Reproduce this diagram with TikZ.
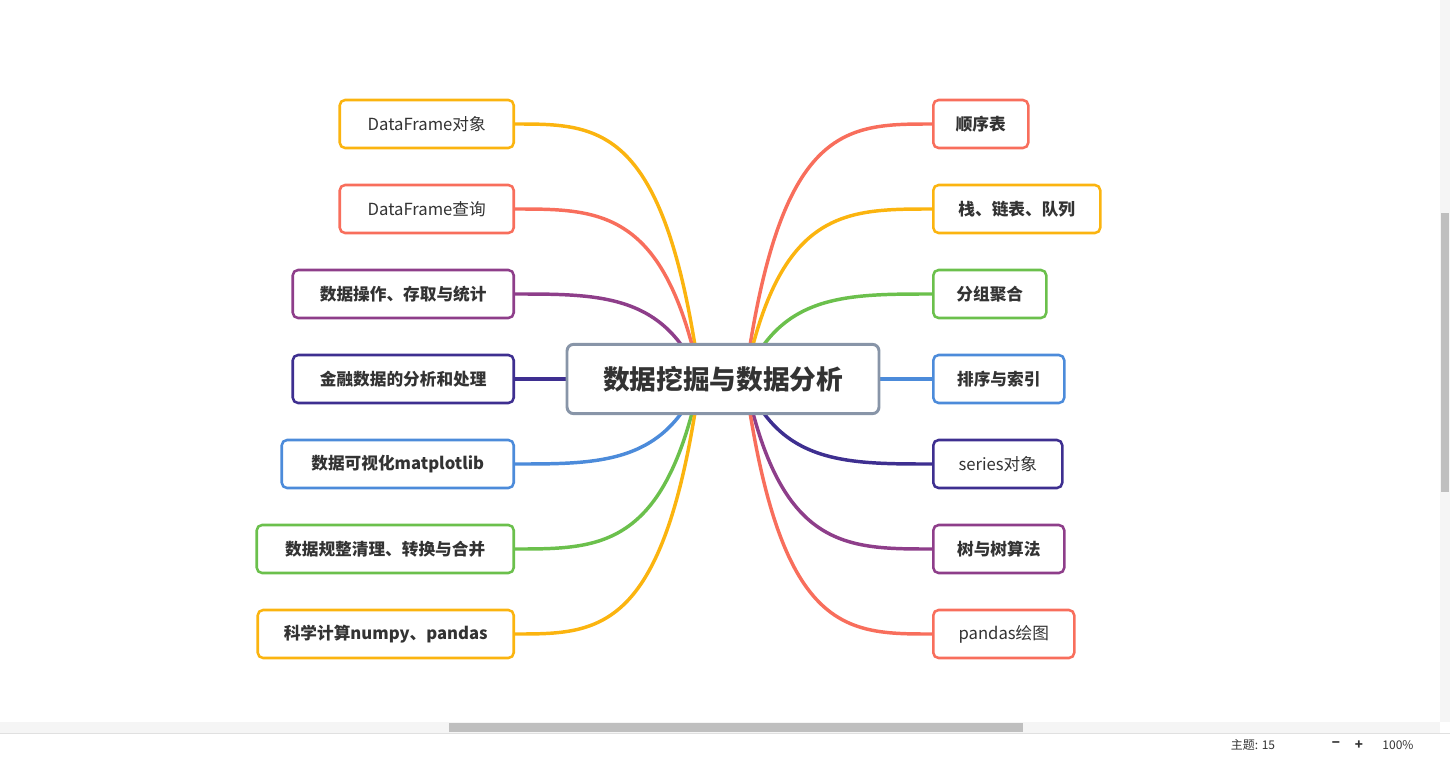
\documentclass[tikz,border=0pt]{standalone}
\usepackage{fontspec}
\setmainfont{Noto Sans CJK SC}
\definecolor{cyel}{HTML}{FBB40F}
\definecolor{cred}{HTML}{F86E5C}
\definecolor{cpur}{HTML}{8E3E8A}
\definecolor{cind}{HTML}{3E2F90}
\definecolor{cblu}{HTML}{4C8BDA}
\definecolor{cgrn}{HTML}{6BC04C}
\definecolor{cgry}{HTML}{8895A8}
\tikzset{
  topic/.style={draw=#1, line width=1.9pt, rounded corners=4pt, fill=white,
    minimum height=36pt, inner xsep=8pt, font=\fontsize{12.5}{15}\selectfont\bfseries, text=black!80},
  maintopic/.style={draw=cgry, line width=2.2pt, rounded corners=5pt, fill=white,
    minimum width=234pt, minimum height=52pt, font=\fontsize{20}{24}\selectfont\bfseries, text=black!80},
  branch/.style={draw=#1, line width=2.6pt, line cap=round}
}
\begin{document}
\begin{tikzpicture}[x=0.75pt,y=-0.75pt]
  \useasboundingbox (0,0) rectangle (1450,757);
  % left branches
  \coordinate (ls) at (700,379);
  \coordinate (rs) at (745,379);
  \foreach \y/\c in {124/cyel,209/cred,294/cpur,464/cblu,549/cgrn,634/cyel}
    \draw[branch=\c] (ls) .. controls (665,\y) and (600,\y) .. (515,\y);
  \draw[branch=cind] (ls) -- (515,379);
  % right branches
  \foreach \y/\c in {124/cred,209/cyel,294/cgrn,464/cind,549/cpur,634/cred}
    \draw[branch=\c] (rs) .. controls (780,\y) and (845,\y) .. (932,\y);
  \draw[branch=cblu] (rs) -- (932,379);
  % central topic
  \node[maintopic] (root) at (723,379) {数据挖掘与数据分析};
  % left topics
  \node[topic=cyel, anchor=east, minimum width=130.5pt, font=\fontsize{12.5}{15}\selectfont] (dfobj) at (515,124) {DataFrame对象};
  \node[topic=cred, anchor=east, minimum width=130.5pt, font=\fontsize{12.5}{15}\selectfont] (dfqry) at (515,209) {DataFrame查询};
  \node[topic=cpur, anchor=east, minimum width=165.75pt] (dataop) at (515,294) {数据操作、存取与统计};
  \node[topic=cind, anchor=east, minimum width=165.75pt] (finance) at (515,379) {金融数据的分析和处理};
  \node[topic=cblu, anchor=east, minimum width=174pt] (vis) at (515,464) {数据可视化matplotlib};
  \node[topic=cgrn, anchor=east, minimum width=192.75pt] (clean) at (515,549) {数据规整清理、转换与合并};
  \node[topic=cyel, anchor=east, minimum width=192pt] (sci) at (515,634) {科学计算numpy、pandas};
  % right topics
  \node[topic=cred, anchor=west, minimum width=71.25pt] (seq) at (932,124) {顺序表};
  \node[topic=cyel, anchor=west, minimum width=125.25pt] (stack) at (932,209) {栈、链表、队列};
  \node[topic=cgrn, anchor=west, minimum width=84.75pt] (group) at (932,294) {分组聚合};
  \node[topic=cblu, anchor=west, minimum width=98.25pt] (sort) at (932,379) {排序与索引};
  \node[topic=cind, anchor=west, minimum width=96.75pt, font=\fontsize{12.5}{15}\selectfont] (series) at (932,464) {series对象};
  \node[topic=cpur, anchor=west, minimum width=98.25pt] (tree) at (932,549) {树与树算法};
  \node[topic=cred, anchor=west, minimum width=105.75pt, font=\fontsize{12.5}{15}\selectfont] (pdplot) at (932,634) {pandas绘图};
  % window chrome
  \fill[black!4] (1440,0) rectangle (1450,722);
  \fill[black!25] (1441,213) rectangle (1449,492);
  \fill[black!4] (0,722) rectangle (1440,733);
  \fill[black!25] (449,723) rectangle (1023,732);
  \draw[black!12] (0,733) -- (1450,733);
  \node[font=\fontsize{9}{11}\selectfont, text=black!80] (theme) at (1253,745) {主题: 15};
  \node[font=\fontsize{9}{11}\selectfont, text=black!80] (zoomlvl) at (1398,745) {100\%};
  \node[font=\fontsize{10}{11}\selectfont\bfseries, text=black!80] (minus) at (1336,745) {−};
  \node[font=\fontsize{10}{11}\selectfont\bfseries, text=black!80] (plus) at (1359,745) {+};
\end{tikzpicture}
\end{document}
